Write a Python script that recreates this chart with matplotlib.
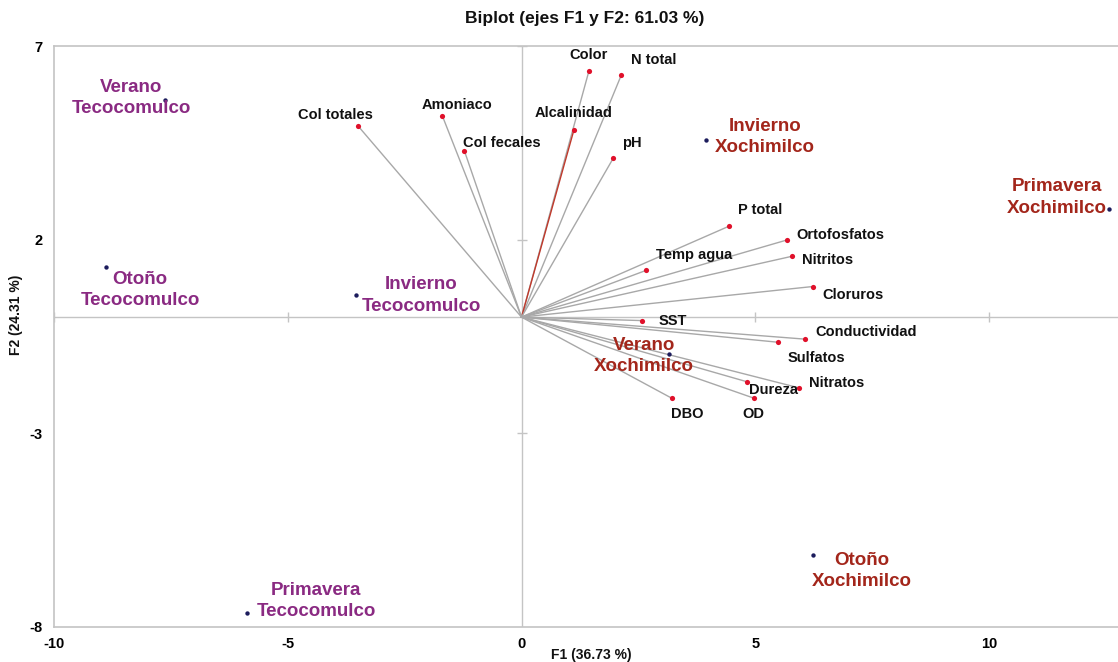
import matplotlib
matplotlib.use("Agg")
import matplotlib.pyplot as plt

plt.rcParams['font.family'] = ['Liberation Sans', 'DejaVu Sans']
plt.rcParams['font.weight'] = 'bold'
plt.rcParams['axes.unicode_minus'] = False

# variable loadings (F1, F2)
variables = ['Color', 'N total', 'Alcalinidad', 'pH', 'Col totales', 'Amoniaco',
             'Col fecales', 'P total', 'Ortofosfatos', 'Temp agua', 'Nitritos',
             'Cloruros', 'SST', 'Conductividad', 'Sulfatos', 'Nitratos',
             'Dureza', 'OD', 'DBO']
var_f1 = [1.44, 2.13, 1.12, 1.96, -3.49, -1.69, -1.22, 4.44, 5.67, 2.67, 5.78,
          6.23, 2.58, 6.07, 5.49, 5.94, 4.82, 4.96, 3.22]
var_f2 = [6.35, 6.24, 4.83, 4.10, 4.93, 5.19, 4.29, 2.35, 1.99, 1.21, 1.57,
          0.79, -0.09, -0.57, -0.65, -1.83, -1.67, -2.09, -2.10]

# observations (season / site)
obs_labels = ['Verano\nTecocomulco', 'Otoño\nTecocomulco', 'Invierno\nTecocomulco',
              'Primavera\nTecocomulco', 'Invierno\nXochimilco', 'Primavera\nXochimilco',
              'Verano\nXochimilco', 'Otoño\nXochimilco']
obs_site = ['Tecocomulco'] * 4 + ['Xochimilco'] * 4
obs_f1 = [-7.62, -8.88, -3.53, -5.86, 3.95, 12.56, 3.15, 6.24]
obs_f2 = [5.60, 1.29, 0.56, -7.64, 4.57, 2.78, -0.95, -6.14]

xticks = [-10, -5, 0, 5, 10]
yticks = [7, 2, -3, -8]

# label placement: (ha, dx, dy) in pixels from the point
var_offsets = {
    'Color': ('center', 0, 16), 'N total': ('left', 10, 15),
    'Alcalinidad': ('center', 0, 17), 'pH': ('left', 9, 15),
    'Col totales': ('center', -23, 11), 'Amoniaco': ('center', 15, 11),
    'Col fecales': ('left', -1, 8), 'P total': ('left', 9, 16),
    'Ortofosfatos': ('left', 10, 5), 'Temp agua': ('left', 10, 15),
    'Nitritos': ('left', 10, -4), 'Cloruros': ('left', 9, -8),
    'SST': ('left', 16, 0), 'Conductividad': ('left', 10, 7),
    'Sulfatos': ('left', 9, -16), 'Nitratos': ('left', 10, 5),
    'Dureza': ('left', 2, -8), 'OD': ('center', 0, -16),
    'DBO': ('center', 15, -16),
}
obs_offsets = [(-34, 2), (34, -23), (65, 0), (69, 12),
               (59, 3), (-52, 12), (-25, -2), (48, -16)]
site_colors = {'Tecocomulco': '#8a2a82', 'Xochimilco': '#a3261b'}

fig = plt.figure(figsize=(11.18, 6.62), dpi=100)
ax = fig.add_axes([0.048, 0.053, 0.952, 0.8775])
ax.set_xlim(-10, 12.75)
ax.set_ylim(-8, 7)

for s in ['left', 'top', 'bottom']:
    ax.spines[s].set_color('#c4c4c4')
    ax.spines[s].set_linewidth(1.2)
ax.spines['right'].set_visible(False)

ax.axhline(0, color='#c4c4c4', lw=1, zorder=1)
ax.axvline(0, color='#c4c4c4', lw=1, zorder=1)
ax.plot([t for t in xticks if t != 0], [0] * 4, ls='none', marker='|',
        ms=7, color='#c4c4c4', zorder=1)
ax.plot([0] * 3, [t for t in yticks if t not in (0, -8)], ls='none', marker='_',
        ms=7, color='#c4c4c4', zorder=1)

ax.set_xticks(xticks)
ax.set_yticks(yticks)
ax.tick_params(length=0, labelsize=10.5)
ax.tick_params(axis='x', pad=7)
ax.tick_params(axis='y', pad=8)
for lab in ax.get_xticklabels() + ax.get_yticklabels():
    lab.set_fontweight('bold')

# loading vectors
for name, x, y in zip(variables, var_f1, var_f2):
    col = '#c0392b' if name == 'Alcalinidad' else '#a8a8a8'
    ax.plot([0, x], [0, y], color=col, lw=1.0, zorder=2)
ax.scatter(var_f1, var_f2, s=14, color='#e0102a', zorder=3, linewidths=0)
for name, x, y in zip(variables, var_f1, var_f2):
    ha, dx, dy = var_offsets[name]
    ax.annotate(name, (x, y), xytext=(dx, dy), textcoords='offset pixels',
                ha=ha, va='center', fontsize=10.5, fontweight='bold',
                color='#111111', zorder=4)

# observations
ax.scatter(obs_f1, obs_f2, s=10, color='#1c1c5c', zorder=3, linewidths=0,
           clip_on=False)
for lab, site, x, y, (dx, dy) in zip(obs_labels, obs_site, obs_f1, obs_f2, obs_offsets):
    ax.annotate(lab, (x, y), xytext=(dx, dy), textcoords='offset pixels',
                ha='center', va='center', multialignment='center',
                fontsize=13.5, fontweight='bold', color=site_colors[site],
                linespacing=1.34, zorder=4)

fig.text(0.523, 0.972, 'Biplot (ejes F1 y F2: 61.03 %)', ha='center', va='center',
         fontsize=12.5, fontweight='bold', color='#111111')
fig.text(0.529, 0.011, 'F1 (36.73 %)', ha='center', va='center',
         fontsize=10, fontweight='bold', color='#111111')
fig.text(0.014, 0.525, 'F2 (24.31 %)', ha='center', va='center', rotation=90,
         fontsize=10, fontweight='bold', color='#111111')

fig.savefig('out.png', dpi=100)
